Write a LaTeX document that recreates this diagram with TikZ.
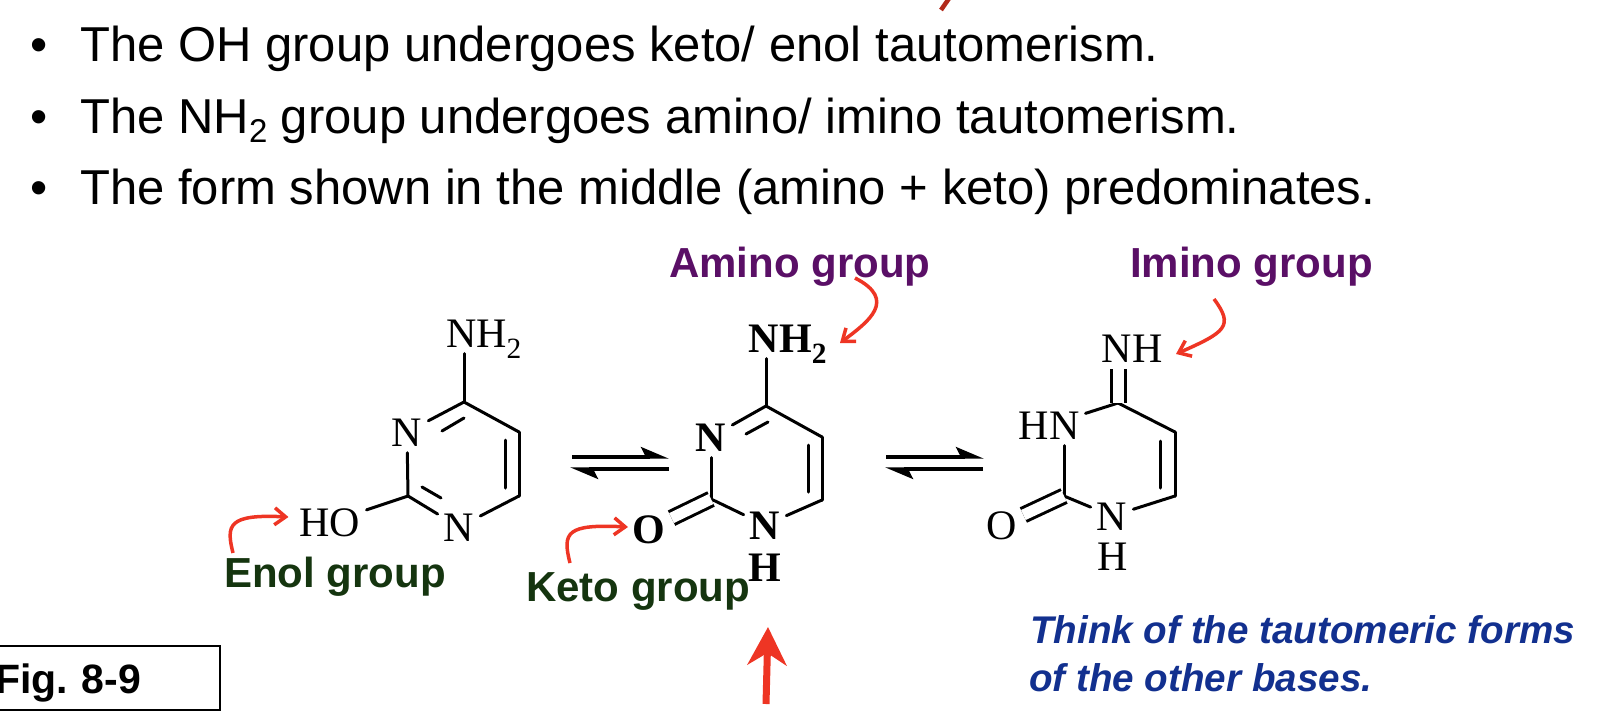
\documentclass[tikz,border=0pt]{standalone}
\usepackage{fontspec}
\setmainfont{Liberation Sans}
\newfontfamily\atomfamily{Liberation Serif}
\usetikzlibrary{arrows.meta}
\definecolor{groupred}{HTML}{EE3524}
\definecolor{tickred}{HTML}{B22A1A}
\definecolor{aminopurple}{HTML}{5A0F66}
\definecolor{enolgreen}{HTML}{15350F}
\definecolor{thinkblue}{HTML}{12308F}
\begin{document}
\begin{tikzpicture}[x=1pt, y=-1pt,
    line/.style={anchor=base west, inner sep=0pt, font=\fontsize{49}{58}\selectfont},
    atom/.style={inner sep=6pt, text height=29pt, text depth=0pt, font=\atomfamily\fontsize{42}{50}\selectfont},
    boldatom/.style={atom, font=\atomfamily\bfseries\fontsize{42}{50}\selectfont},
    group/.style={anchor=base west, inner sep=0pt, font=\bfseries\fontsize{42}{48}\selectfont},
    bond/.style={line width=3pt, line cap=round},
    dbond/.style={line width=3pt, double, double distance=11pt},
    curved/.style={-{Straight Barb[length=11pt, width=17pt]}, groupred, line width=3.5pt},
    half/.style={-{Stealth[left, length=24pt, width=20pt, inset=5pt]}, line width=3.4pt},
    note/.style={anchor=base west, inner sep=0pt, thinkblue, font=\bfseries\itshape\fontsize{38.6}{46}\selectfont}
]
    \useasboundingbox (0,0) rectangle (1614,718);
    \clip (0,0) rectangle (1614,718);

    % Bullets
    \node[line] (dot1) at (30,61) {\textbullet};
    \node[line] (dot2) at (30,133) {\textbullet};
    \node[line] (dot3) at (30,204) {\textbullet};
    \node[line] (line1) at (80,61) {The OH group undergoes keto/ enol tautomerism.};
    \node[line] (line2) at (80,133) {The NH\raisebox{-9pt}{\fontsize{33}{38}\selectfont 2} group undergoes amino/ imino tautomerism.};
    \node[line] (line3) at (80,204) {The form shown in the middle (amino + keto) predominates.};
    \coordinate (ticka) at (941,10);
    \coordinate (tickb) at (950,-3);
    \draw[tickred, line width=4.5pt] (ticka) -- (tickb);

    % Enol form
    \coordinate (a2) at (408,496);
    \coordinate (a4) at (464,402);
    \coordinate (a5) at (519,432);
    \coordinate (a6) at (519,496);
    \node[atom] (a1) at (459,527) {N};
    \node[atom] (a3) at (407,432) {N};
    \node[atom] (ho) at (330,522) {HO};
    \node[atom] (anh2) at (484,333) {NH\textsubscript{2}};
    \draw[bond] (a2) -- (a3);
    \draw[bond] (a3) -- (a4);
    \draw[bond] (a4) -- (a5);
    \draw[bond] (a5) -- (a6);
    \draw[bond] (a6) -- (a1);
    \draw[bond] (a1) -- (a2);
    \draw[bond] (a2) -- (ho);
    \draw[bond] (a4) -- (a4 |- anh2.south);
    \draw[bond] ([shift={(-22,29)}]a4) -- ([shift={(0,16)}]a4);
    \draw[bond] ([shift={(14,-9)}]a2) -- ([shift={(33,2)}]a2);
    \draw[bond] ([shift={(-14,8)}]a5) -- ([shift={(-14,-8)}]a6);

    % Amino + keto form
    \coordinate (b2) at (711,499);
    \coordinate (b4) at (766,406);
    \coordinate (b5) at (822,437);
    \coordinate (b6) at (822,500);
    \node[boldatom] (b1) at (765,525) {N};
    \node[boldatom] (b3) at (711,437) {N};
    \node[boldatom] (bo) at (649,529) {O};
    \node[boldatom] (bh) at (765,567) {H};
    \node[boldatom] (bnh2) at (788,338) {NH\textsubscript{2}};
    \draw[bond] (b2) -- (b3);
    \draw[bond] (b3) -- (b4);
    \draw[bond] (b4) -- (b5);
    \draw[bond] (b5) -- (b6);
    \draw[bond] (b6) -- (b1);
    \draw[bond] (b1) -- (b2);
    \draw[dbond] (b2) -- (bo);
    \draw[bond] (b4) -- (b4 |- bnh2.south);
    \draw[bond] ([shift={(-20,28)}]b4) -- ([shift={(2,16)}]b4);
    \draw[bond] ([shift={(-14,8)}]b5) -- ([shift={(-14,-8)}]b6);

    % Imino form
    \coordinate (c2) at (1064,496);
    \coordinate (c4) at (1118,403);
    \coordinate (c5) at (1175,432);
    \coordinate (c6) at (1175,496);
    \node[atom] (c1) at (1112,516) {N};
    \node[atom] (c3) at (1049,425) {HN};
    \node[atom] (co) at (1002,525) {O};
    \node[atom] (ch) at (1113,556) {H};
    \node[atom] (cnh) at (1132,348) {NH};
    \draw[bond] (c2) -- (c2 |- c3.south);
    \draw[bond] (c3) -- (c4);
    \draw[bond] (c4) -- (c5);
    \draw[bond] (c5) -- (c6);
    \draw[bond] (c6) -- (c1);
    \draw[bond] (c1) -- (c2);
    \draw[dbond] (c2) -- (co);
    \draw[dbond] (c4) -- (c4 |- cnh.south);
    \draw[bond] ([shift={(-15,9)}]c5) -- ([shift={(-15,-8)}]c6);

    % Equilibrium arrows
    \coordinate (eqa) at (572,457);
    \coordinate (eqb) at (669,457);
    \coordinate (eqc) at (669,469);
    \coordinate (eqd) at (570,469);
    \coordinate (eqe) at (886,457);
    \coordinate (eqf) at (984,457);
    \coordinate (eqg) at (983,469);
    \coordinate (eqh) at (885,469);
    \draw[half] (eqa) -- (eqb);
    \draw[half] (eqc) -- (eqd);
    \draw[half] (eqe) -- (eqf);
    \draw[half] (eqg) -- (eqh);

    % Group labels
    \node[group, aminopurple] (amino) at (669,277) {Amino group};
    \node[group, aminopurple] (imino) at (1130,277) {Imino group};
    \node[group, enolgreen] (enol) at (224,587) {Enol group};
    \node[group, enolgreen] (keto) at (526,601) {Keto group};

    % Red arrows
    \coordinate (enoltail) at (233,553);
    \coordinate (ketotail) at (570,563);
    \coordinate (ketotip) at (628,527);
    \coordinate (aminotail) at (855,278);
    \coordinate (aminotip) at (840,343);
    \coordinate (iminotail) at (1214,299);
    \coordinate (iminotip) at (1176,354);
    \draw[curved] (enoltail) .. controls (226,525) and (228,514) .. ([yshift=5pt, xshift=-5pt]ho.west);
    \draw[curved] (ketotail) .. controls (562,532) and (567,524) .. (ketotip);
    \draw[curved] (aminotail) .. controls (898,300) and (868,322) .. (aminotip);
    \draw[curved] (iminotail) .. controls (1234,326) and (1226,332) .. (iminotip);
    \coordinate (uptail) at (766,704);
    \coordinate (uptip) at (768,627);
    \draw[-{Stealth[length=38pt, width=39pt, inset=12pt]}, groupred, line width=7pt] (uptail) -- (uptip);

    % Note and figure label
    \node[note] (think1) at (1030,643) {Think of the tautomeric forms};
    \node[note] (think2) at (1029,691) {of the other bases.};
    \node[draw, line width=1.5pt, minimum height=64pt, text width=220pt, inner xsep=5pt, align=left, text height=30pt, text depth=0pt, font=\frenchspacing\bfseries\fontsize{41}{48}\selectfont] (fig) at (105,678) {Fig. 8-9};
\end{tikzpicture}
\end{document}
